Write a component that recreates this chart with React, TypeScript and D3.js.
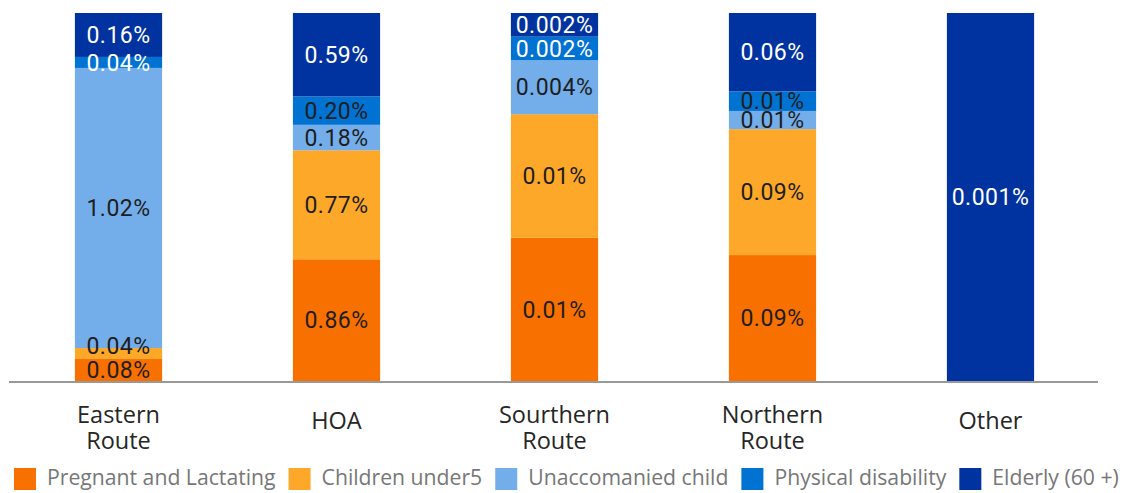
import React from "react";
import * as d3 from "d3";

const categories = ["Eastern Route", "HOA", "Sourthern Route", "Northern Route", "Other"];
const seriesNames = ["Pregnant and Lactating", "Children under5", "Unaccomanied child", "Physical disability", "Elderly (60 +)"];
const pregnant = [0.08, 0.86, 0.0109, 0.09, 0];
const children = [0.04, 0.77, 0.0094, 0.09, 0];
const unaccompanied = [1.02, 0.18, 0.0041, 0.013, 0];
const physical = [0.04, 0.2, 0.0018, 0.014, 0];
const elderly = [0.16, 0.59, 0.0018, 0.056, 0.001];
const seriesColors = ["#F87000", "#FDA828", "#73AEEA", "#0072D2", "#0033A0"];
const whiteLabels: [string, string][] = [
  ["Eastern Route", "Physical disability"],
  ["Sourthern Route", "Physical disability"],
];

const W = 1138;
const H = 493;
const BAR_TOP = 13;
const BAR_BOTTOM = 381;
const LABEL_FONT = "Roboto, 'DejaVu Sans', sans-serif";
const TEXT_FONT = "'Open Sans', 'Noto Sans', sans-serif";

function fmt(v: number) {
  return (v >= 0.005 ? v.toFixed(2) : v.toFixed(3)) + "%";
}

function measure(text: string, font: string) {
  if (typeof document === "undefined") return text.length * 10;
  const c = document.createElement("canvas");
  const ctx = c.getContext("2d");
  if (!ctx) return text.length * 10;
  ctx.font = font;
  return ctx.measureText(text).width;
}

export default function App() {
  const allSeries = [pregnant, children, unaccompanied, physical, elderly];
  const rows = categories.map((c, i) => {
    const r: any = { category: c };
    seriesNames.forEach((s, j) => (r[s] = allSeries[j][i]));
    return r;
  });
  const stacked = d3.stack<any>().keys(seriesNames).offset(d3.stackOffsetExpand)(rows);

  const x = d3.scaleBand<string>().domain(categories).range([9.5, 1099.5]).paddingInner(0.6).paddingOuter(0.3);
  const y = d3.scaleLinear().domain([0, 1]).range([BAR_BOTTOM, BAR_TOP]);

  const labels: { x: number; y: number; text: string; color: string; key: string }[] = [];
  categories.forEach((cat, ci) => {
    let prevCenter: number | null = null;
    stacked.forEach((layer, si) => {
      const v = allSeries[si][ci];
      if (!v) return;
      const d = layer[ci];
      const y0 = y(d[0]);
      const y1 = y(d[1]);
      let cy = (y0 + y1) / 2;
      const h = y0 - y1;
      if (h < 14 && prevCenter !== null && prevCenter - cy < 24) cy = prevCenter - 24;
      prevCenter = cy;
      const isWhite =
        seriesNames[si] === "Elderly (60 +)" ||
        whiteLabels.some(([c, s]) => c === cat && s === seriesNames[si]);
      labels.push({
        x: (x(cat) as number) + x.bandwidth() / 2,
        y: cy,
        text: fmt(v),
        color: isWhite ? "#ffffff" : "#1e1e1e",
        key: cat + si,
      });
    });
  });

  const legendSize = 21.2;
  const legendFont = `${legendSize}px 'Open Sans'`;
  let lx = 14;
  const legendItems = seriesNames.map((s, i) => {
    const item = { name: s, color: seriesColors[i], x: lx };
    lx += 22 + 11 + measure(s, legendFont) + 13;
    return item;
  });

  return (
    <svg width={W} height={H} style={{ position: "absolute", left: 0, top: 0 }}>
      <rect width={W} height={H} fill="#ffffff" />
      {stacked.map((layer, si) => (
        <g key={si} fill={seriesColors[si]}>
          {layer.map((d, ci) => (
            <rect
              key={ci}
              x={x(categories[ci])}
              y={y(d[1])}
              width={x.bandwidth()}
              height={Math.max(0, y(d[0]) - y(d[1]))}
            />
          ))}
        </g>
      ))}
      <line x1={9} x2={1098} y1={382} y2={382} stroke="#999999" strokeWidth={2} />
      {labels.map((l) => (
        <text
          key={l.key}
          x={l.x}
          y={l.y}
          dy="0.355em"
          textAnchor="middle"
          fill={l.color}
          style={{ fontFamily: LABEL_FONT, fontSize: 23, letterSpacing: 0.5 }}
        >
          {l.text}
        </text>
      ))}
      {categories.map((c) => {
        const words = c.split(" ");
        const cx = (x(c) as number) + x.bandwidth() / 2;
        const lineH = 26;
        const startY = 429 - ((words.length - 1) * lineH) / 4;
        return (
          <text
            key={c}
            x={cx}
            textAnchor="middle"
            fill="#262626"
            style={{ fontFamily: TEXT_FONT, fontSize: 23.5 }}
          >
            {words.map((w, i) => (
              <tspan key={i} x={cx} y={startY + i * lineH}>
                {w}
              </tspan>
            ))}
          </text>
        );
      })}
      {legendItems.map((it) => (
        <g key={it.name}>
          <rect x={it.x} y={468} width={22} height={22} fill={it.color} />
          <text x={it.x + 33} y={485} fill="#777777" style={{ fontFamily: TEXT_FONT, fontSize: legendSize }}>
            {it.name}
          </text>
        </g>
      ))}
    </svg>
  );
}
